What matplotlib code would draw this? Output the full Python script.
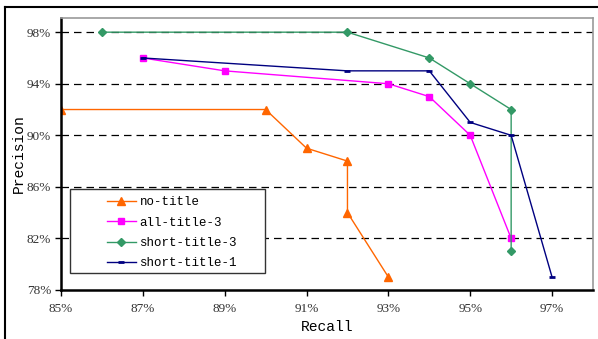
import matplotlib.pyplot as plt
from matplotlib.lines import Line2D
from matplotlib.patches import Rectangle
from matplotlib.ticker import FuncFormatter

# recall / precision points, in percent
no_title_r = [85, 90, 91, 92, 92, 93]
no_title_p = [92, 92, 89, 88, 84, 79]

all_title3_r = [87, 89, 93, 94, 95, 96]
all_title3_p = [96, 95, 94, 93, 90, 82]

short_title3_r = [86, 92, 94, 95, 96, 96]
short_title3_p = [98, 98, 96, 94, 92, 81]

short_title1_r = [87, 92, 94, 95, 96, 97]
short_title1_p = [96, 95, 95, 91, 90, 79]

x_ticks = [85, 87, 89, 91, 93, 95, 97]
y_ticks = [78, 82, 86, 90, 94, 98]

mono = 'Liberation Mono'
serif = 'Liberation Serif'

W, H = 598, 339
fig = plt.figure(figsize=(W / 100, H / 100), dpi=100)
ax = fig.add_axes([61 / W, 1 - 290 / H, 532 / W, 272 / H])

ax.plot(no_title_r, no_title_p, color='#FF6600', lw=1.0, marker='^', ms=6,
        label='no-title')
ax.plot(all_title3_r, all_title3_p, color='#FF00FF', lw=1.0, marker='s', ms=5,
        label='all-title-3')
ax.plot(short_title3_r, short_title3_p, color='#339966', lw=1.0, marker='D', ms=4,
        label='short-title-3')
ax.plot(short_title1_r, short_title1_p, color='#000080', lw=1.0, marker='_', ms=5,
        mew=2, label='short-title-1')

ax.set_xlim(85, 98)
ax.set_ylim(78, 99.1)
ax.set_xticks(x_ticks)
ax.set_yticks(y_ticks)
pct = FuncFormatter(lambda v, _: f'{v:.0f}%')
ax.xaxis.set_major_formatter(pct)
ax.yaxis.set_major_formatter(pct)
for lab in ax.get_xticklabels() + ax.get_yticklabels():
    lab.set_fontfamily(serif)
    lab.set_fontsize(9.5)
    lab.set_color('#333333')
ax.tick_params(axis='x', direction='out', length=4, width=1, pad=5)
ax.tick_params(axis='y', direction='out', length=4, width=1, pad=3)

# dashed horizontal grid, not on the bottom edge
for y in y_ticks[1:]:
    ax.axhline(y, color='black', lw=0.9, ls=(0, (6, 4)), zorder=0)

for side in ('top', 'right'):
    ax.spines[side].set_color('#999999')
    ax.spines[side].set_linewidth(1.2)
for side in ('left', 'bottom'):
    ax.spines[side].set_color('black')
    ax.spines[side].set_linewidth(1.8)

ax.set_xlabel('Recall', fontfamily=mono, fontsize=10.5, labelpad=4)
ax.set_ylabel('Precision', fontfamily=mono, fontsize=10.5, labelpad=1)

# legend box, with the entries set in from its left edge
ax.add_patch(Rectangle((9 / 532, 17 / 272), 195 / 532, 84 / 272,
                       transform=ax.transAxes, facecolor='white',
                       edgecolor='#333333', lw=1.0, zorder=4))
leg = ax.legend(loc='upper left', bbox_to_anchor=(46 / 532, 94 / 272),
                prop={'family': mono, 'size': 9}, frameon=False,
                handlelength=2.3, handletextpad=0.3, labelspacing=0.68,
                borderpad=0, borderaxespad=0)
leg.set_zorder(5)

# outer frame around the whole figure
fig.add_artist(Line2D([5 / W, 1.0], [1 - 7 / H, 1 - 7 / H],
                      transform=fig.transFigure, color='black', lw=1.5))
fig.add_artist(Line2D([5 / W, 5 / W], [0, 1 - 7 / H],
                      transform=fig.transFigure, color='black', lw=1.5))

fig.savefig('out.png', dpi=100)
